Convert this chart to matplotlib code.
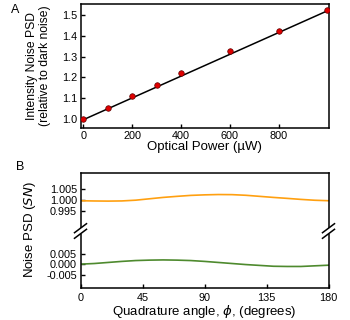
import matplotlib
matplotlib.use("Agg")
import matplotlib.pyplot as plt
import numpy as np

plt.rcParams['font.family'] = ['Liberation Sans', 'DejaVu Sans']
plt.rcParams['mathtext.fontset'] = 'dejavusans'

# Panel A data
power_uW = [0, 100, 200, 300, 400, 600, 800, 1000]
intensity_psd = [1.000, 1.053, 1.109, 1.165, 1.221, 1.326, 1.425, 1.522]
fit_x = [0, 1000]
fit_y = [0.997, 1.520]
a_xticks = [0, 200, 400, 600, 800]
a_yticks = [1.0, 1.1, 1.2, 1.3, 1.4, 1.5]

# Panel B data
phi_deg = [0, 10, 20, 30, 40, 50, 60, 70, 80, 90, 100, 110, 120, 130, 140, 150, 160, 170, 180]
sn_top = [0.99968, 0.99958, 0.99952, 0.99960, 0.99995, 1.00060, 1.00125, 1.00175, 1.00220,
          1.00245, 1.00260, 1.00255, 1.00225, 1.00175, 1.00125, 1.00080, 1.00032, 0.99992, 0.99970]
sn_bottom = [0.0000, 0.0003, 0.0008, 0.0013, 0.0017, 0.0019, 0.0020, 0.0019, 0.0017, 0.0013,
             0.0008, 0.0003, -0.0002, -0.0006, -0.0010, -0.0011, -0.0011, -0.0008, -0.0005]
b_xticks = [0, 45, 90, 135, 180]
b_top_yticks = [0.995, 1.000, 1.005]
b_bot_yticks = [-0.005, 0.000, 0.005]

W, H = 350, 320
fig = plt.figure(figsize=(W/100, H/100), dpi=100)

def rect(l, t, r, b):
    return [l/W, 1 - b/H, (r-l)/W, (b-t)/H]

tick_fs = 7.8
lab_fs = 9.5
lw_sp = 1.1

def style(ax):
    for s in ax.spines.values():
        s.set_linewidth(lw_sp)
    ax.tick_params(direction='in', labelsize=tick_fs, width=1.0, length=3, pad=2.5)

# Panel A
axA = fig.add_axes(rect(80.5, 4, 328.5, 128))
axA.plot(fit_x, fit_y, color='black', lw=1.1, zorder=2)
axA.plot(power_uW, intensity_psd, 'o', color='#e00000', mec='#600000', mew=0.5, ms=4, zorder=3)
axA.set_xlim(-12, 1005)
axA.set_ylim(0.957, 1.553)
axA.set_xticks(a_xticks)
axA.set_yticks(a_yticks)
axA.set_yticklabels([f"{v:.1f}" for v in a_yticks])
style(axA)
axA.set_xlabel("Optical Power (\u00b5W)", fontsize=lab_fs, labelpad=0)
axA.set_ylabel("Intensity Noise PSD\n(relative to dark noise)", fontsize=8.7, labelpad=8, linespacing=1.05)
fig.text(15/W, 1 - 10/H, "A", fontsize=9, ha='center', va='center')

# Panel B (broken axis)
split = 231
axT = fig.add_axes(rect(80.5, 173, 328.5, split))
axB = fig.add_axes(rect(80.5, split, 328.5, 288))
axT.plot(phi_deg, sn_top, color='#ffa010', lw=1.2)
axB.plot(phi_deg, sn_bottom, color='#4e8a2e', lw=1.2)
axT.set_ylim(0.9855, 1.0127)
axB.set_ylim(-0.0113, 0.0157)
for ax in (axT, axB):
    ax.set_xlim(0, 180)
    style(ax)
axT.set_yticks(b_top_yticks)
axT.set_yticklabels([f"{v:.3f}" for v in b_top_yticks])
axB.set_yticks(b_bot_yticks)
axB.set_yticklabels([f"{v:.3f}" for v in b_bot_yticks])
axT.set_xticks([])
axT.spines['bottom'].set_visible(False)
axB.spines['top'].set_visible(False)
axB.set_xticks(b_xticks)
axB.set_xticklabels([str(v) for v in b_xticks])
axB.tick_params(axis='x', pad=3.5)
axB.set_xlabel(r"Quadrature angle, $\phi$, (degrees)", fontsize=lab_fs, labelpad=0)
fig.text(30/W, 1 - 230/H, "Noise PSD ($\\mathit{SN}$)", fontsize=lab_fs, rotation=90,
         ha='center', va='center')
fig.text(20/W, 1 - 167/H, "B", fontsize=9, ha='center', va='center')

# break marks
for xp in (80.5, 328.5):
    fig.add_artist(plt.Rectangle(((xp - 1.5)/W, 1 - (split + 3)/H), 3/W, 6/H,
                                 color='white', lw=0, zorder=5))
    for dy in (-2.8, 2.8):
        x0, x1 = xp - 6, xp + 6
        y0, y1 = split + dy + 4.5, split + dy - 4.5
        fig.add_artist(plt.Line2D([x0/W, x1/W], [1 - y0/H, 1 - y1/H], color='black',
                                  lw=1.1, zorder=6))

fig.savefig("out.png", dpi=100)
